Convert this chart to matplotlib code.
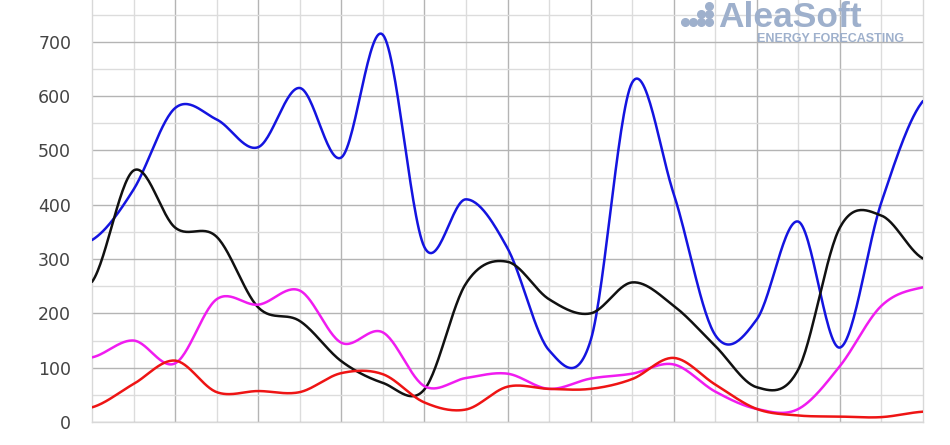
import numpy as np
import matplotlib.pyplot as plt
from matplotlib.ticker import FixedLocator

# -----------------------------
# DATA (one value per grid column)
# -----------------------------
periods = list(range(21))
blue_vals = [335, 428, 578, 557, 506, 615, 487, 713, 322, 410, 320, 132,
             150, 625, 420, 160, 189, 369, 137, 405, 591]
black_vals = [258, 463, 358, 341, 211, 186, 112, 72, 60, 255, 295, 226,
              200, 257, 214, 140, 64, 97, 358, 380, 301]
magenta_vals = [119, 150, 108, 226, 216, 242, 146, 165, 66, 81, 89, 61,
                80, 89, 106, 56, 24, 24, 103, 214, 248]
red_vals = [27, 70, 113, 55, 57, 55, 90, 88, 36, 23, 65, 61,
            61, 79, 118, 69, 24, 12, 10, 9, 19]

y_ticks = [0, 100, 200, 300, 400, 500, 600, 700]

SERIES = [
    (blue_vals, "#1414e0"),
    (black_vals, "#111111"),
    (magenta_vals, "#f01cf0"),
    (red_vals, "#ee1414"),
]


# -----------------------------
# Smoothed line, same idea as spreadsheet "smoothed line"
# (Catmull-Rom through each point)
# -----------------------------
def smooth(x, y, steps=30):
    x = np.asarray(x, float)
    y = np.asarray(y, float)
    yp = np.concatenate([[y[0]], y, [y[-1]]])
    xs, ys = [], []
    t = np.linspace(0, 1, steps, endpoint=False)
    for i in range(len(y) - 1):
        p0, p1 = yp[i + 1], yp[i + 2]
        m0 = (yp[i + 2] - yp[i]) / 2
        m1 = (yp[i + 3] - yp[i + 1]) / 2
        h00 = 2 * t**3 - 3 * t**2 + 1
        h10 = t**3 - 2 * t**2 + t
        h01 = -2 * t**3 + 3 * t**2
        h11 = t**3 - t**2
        xs.append(x[i] + t * (x[i + 1] - x[i]))
        ys.append(h00 * p0 + h10 * m0 + h01 * p1 + h11 * m1)
    xs.append([x[-1]])
    ys.append([y[-1]])
    return np.concatenate(xs), np.concatenate(ys)


fig = plt.figure(figsize=(9.5, 4.45), dpi=100)
ax = fig.add_axes([92 / 950, 23 / 445, 831 / 950, 422 / 445])

for vals, col in SERIES:
    sx, sy = smooth(periods, vals)
    ax.plot(sx, sy, color=col, lw=1.8, solid_capstyle="round", zorder=3)

ax.set_xlim(0, 20)
ax.set_ylim(0, 777)

ax.xaxis.set_major_locator(FixedLocator(list(range(2, 20, 2))))
ax.xaxis.set_minor_locator(FixedLocator(list(range(1, 20, 2))))
ax.yaxis.set_major_locator(FixedLocator(y_ticks))
ax.yaxis.set_minor_locator(FixedLocator([50 + 100 * k for k in range(8)]))

ax.grid(which="major", color="#b4b4b4", lw=1.0, zorder=0)
ax.grid(which="minor", color="#dcdcdc", lw=1.0, zorder=0)

for side in ["left", "right", "bottom"]:
    ax.spines[side].set_color("#d8d8d8")
    ax.spines[side].set_linewidth(1.0)
ax.spines["top"].set_visible(False)

ax.tick_params(axis="x", which="both", length=0, labelbottom=False)
ax.tick_params(axis="y", which="both", length=0, pad=15)
ax.set_yticklabels([str(v) for v in y_ticks], fontsize=12.5,
                   color="#444444", family="DejaVu Sans")

# logo
logo_col = "#9eb0cc"
fig.text(718 / 950, 1 - 27 / 445, "AleaSoft", fontsize=25.5, fontweight="bold",
         family="Liberation Sans", color=logo_col, ha="left", va="baseline")
fig.text(757 / 950, 1 - 42 / 445, "ENERGY FORECASTING", fontsize=9.0,
         fontweight="bold", family="Liberation Sans", color=logo_col,
         ha="left", va="baseline")
dots_x = [685, 693, 701, 709, 701, 709, 709]
dots_y = [22, 22, 22, 22, 14, 14, 6]
fig.lines.append(plt.Line2D([x / 950 for x in dots_x],
                            [1 - y / 445 for y in dots_y],
                            transform=fig.transFigure, ls="none",
                            marker="o", ms=5.5, color=logo_col))

fig.savefig("out.png", dpi=100)
